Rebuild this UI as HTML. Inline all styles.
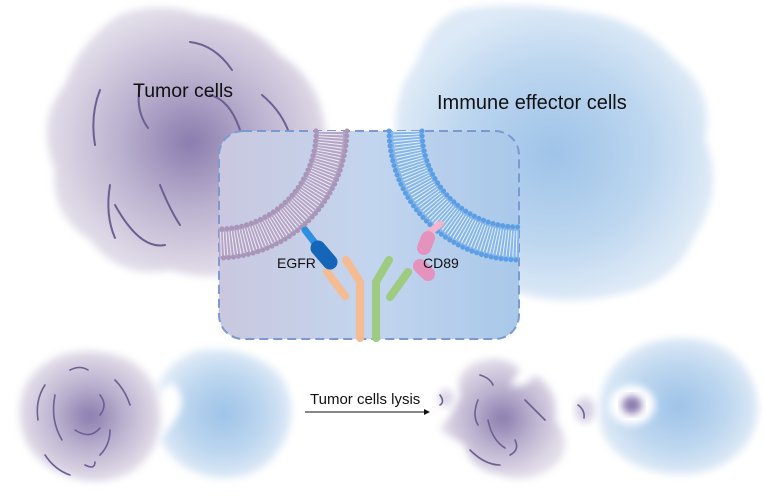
<!DOCTYPE html>
<html><head><meta charset="utf-8"><style>
html,body{margin:0;padding:0;background:#fff;width:764px;height:496px;overflow:hidden}
svg{display:block}
text{font-family:"Liberation Sans",sans-serif;fill:#111}
</style></head><body>
<svg width="764" height="496" viewBox="0 0 764 496" xmlns="http://www.w3.org/2000/svg">
<defs>
<radialGradient id="tum" cx="0.5" cy="0.5" r="0.5"><stop offset="0" stop-color="#8a7cae"/><stop offset="0.5" stop-color="#bbb2cf"/><stop offset="1" stop-color="#e2dde9"/></radialGradient>
<radialGradient id="imm" cx="0.5" cy="0.5" r="0.5"><stop offset="0" stop-color="#9ec3e8"/><stop offset="0.6" stop-color="#bcd6ef"/><stop offset="1" stop-color="#dde9f6"/></radialGradient>
<linearGradient id="box" x1="0" x2="1" y1="0" y2="0"><stop offset="0" stop-color="#c9c8df"/><stop offset="0.5" stop-color="#c3d5ee"/><stop offset="1" stop-color="#a9c8ea"/></linearGradient>
<filter id="bl" x="-20%" y="-20%" width="140%" height="140%"><feGaussianBlur stdDeviation="4"/></filter>
</defs>
<path filter="url(#bl)" fill="url(#tum)" d="M120,15 Q160,0 200,15 Q250,20 280,55 Q320,80 325,130 Q345,170 320,210 Q310,250 260,265 Q220,285 170,270 Q120,280 90,240 Q50,215 55,170 Q35,120 65,85 Q80,40 120,15Z"/>
<path filter="url(#bl)" fill="url(#imm)" d="M460,10 Q520,0 580,12 Q640,18 675,60 Q715,90 705,140 Q725,190 695,235 Q675,285 615,295 Q560,308 510,290 Q450,290 415,245 Q385,200 398,150 Q388,100 418,60 Q430,22 460,10Z"/>
<g fill="none" stroke="#6c5f92" stroke-width="2" stroke-linecap="round">
<path d="M190,42 Q215,45 232,70"/><path d="M262,95 Q280,110 288,130"/><path d="M100,90 Q90,115 95,145"/><path d="M140,85 Q135,110 148,128"/><path d="M110,185 Q105,215 115,238"/><path d="M160,185 Q170,210 180,225"/><path d="M115,205 Q140,250 165,245"/><path d="M210,95 Q230,100 240,130"/>
</g>
<text x="133" y="97" font-size="19.5">Tumor cells</text>
<text x="437" y="109" font-size="20">Immune effector cells</text>
<rect x="219" y="131" width="300" height="208" rx="24" fill="url(#box)" stroke="#7c9ad0" stroke-width="2" stroke-dasharray="9 5"/>
<g fill="none">
<path d="M331,131 A113,113 0 0 1 219,244" stroke="#b3a5c6" stroke-width="30"/>
<path d="M331,131 A113,113 0 0 1 219,244" stroke="#eeeaf4" stroke-width="24" stroke-dasharray="1 2"/>
<path d="M347,131 A129,129 0 0 1 219,258" stroke="#a895b8" stroke-width="5" stroke-dasharray="0 5" stroke-linecap="round"/>
<path d="M316,131 A98,98 0 0 1 219,229" stroke="#a895b8" stroke-width="5" stroke-dasharray="0 5" stroke-linecap="round"/>
<path d="M406,131 A114,114 0 0 0 519,244" stroke="#86b6ea" stroke-width="32"/>
<path d="M406,131 A114,114 0 0 0 519,244" stroke="#e6f0fb" stroke-width="26" stroke-dasharray="1 2"/>
<path d="M389,131 A130,130 0 0 0 519,260" stroke="#5c9ee4" stroke-width="5" stroke-dasharray="0 5" stroke-linecap="round"/>
<path d="M422,131 A97,97 0 0 0 519,227" stroke="#5c9ee4" stroke-width="5" stroke-dasharray="0 5" stroke-linecap="round"/>
</g>
<g fill="none" stroke-linecap="round">
<path d="M346,260 L360,282 L360,338" stroke="#f5bc93" stroke-width="8"/>
<path d="M327,272 L345,296" stroke="#f5bc93" stroke-width="8"/>
<path d="M389,260 L376,282 L376,338" stroke="#9ecb80" stroke-width="8"/>
<path d="M408,272 L390,297" stroke="#9ecb80" stroke-width="8"/>
<path d="M305,230 L318,247" stroke="#2d8fe0" stroke-width="7"/>
<path d="M318,248 L330,262" stroke="#1565b8" stroke-width="15"/>
<path d="M440,224 L430,232" stroke="#f2b3cc" stroke-width="7"/>
<path d="M428,238 L424,248" stroke="#e592bd" stroke-width="14"/>
<path d="M420,266 L428,274" stroke="#e592bd" stroke-width="14"/>
</g>
<text x="277" y="268" font-size="14">EGFR</text>
<text x="423" y="268" font-size="14">CD89</text>
<path filter="url(#bl)" fill="url(#tum)" d="M60,355 Q95,345 130,360 Q160,380 160,410 Q165,445 135,470 Q100,490 65,475 Q25,460 20,420 Q15,375 60,355Z"/>
<path filter="url(#bl)" fill="url(#imm)" d="M200,350 Q250,345 280,375 Q300,405 285,440 Q265,480 220,478 Q180,475 160,440 L175,420 Q190,400 172,382 L155,395 Q165,360 200,350Z"/>
<g fill="none" stroke="#6c5f92" stroke-width="1.6" stroke-linecap="round">
<path d="M70,370 Q80,365 88,370"/><path d="M45,385 Q35,400 38,420"/><path d="M55,395 Q50,420 62,440"/><path d="M115,380 Q125,390 130,405"/><path d="M75,430 Q90,440 100,428"/><path d="M110,430 Q110,445 100,455"/><path d="M45,455 Q55,470 70,475"/><path d="M85,465 Q95,470 95,462"/><path d="M100,395 Q108,405 100,415"/>
</g>
<line x1="305" y1="412" x2="425" y2="412" stroke="#111" stroke-width="1"/>
<path d="M430,412 L424,409 L424,415Z" fill="#111"/>
<text x="310" y="404" font-size="15">Tumor cells lysis</text>
<path filter="url(#bl)" fill="url(#tum)" d="M470,365 Q500,350 520,370 L510,385 Q525,390 535,375 Q560,390 555,420 Q575,445 555,465 Q530,485 500,475 Q470,470 465,445 L440,430 Q455,410 460,395 Q455,375 470,365Z"/>
<ellipse cx="446" cy="398" rx="8" ry="9" fill="#dcd7e7" filter="url(#bl)"/>
<ellipse cx="585" cy="410" rx="10" ry="13" fill="#d8d3e5" filter="url(#bl)"/>
<path filter="url(#bl)" fill="url(#imm)" d="M660,340 Q722,330 748,372 Q768,410 748,442 Q722,478 670,474 Q618,468 602,432 Q592,390 618,362 Q634,346 660,340Z"/>
<ellipse cx="632" cy="405" rx="23" ry="20" fill="#fff" filter="url(#bl)"/>
<ellipse cx="632" cy="405" rx="10" ry="9" fill="#8a7cae" filter="url(#bl)"/>
<g fill="none" stroke="#6c5f92" stroke-width="1.6" stroke-linecap="round">
<path d="M480,375 Q490,378 493,385"/><path d="M478,400 Q472,415 478,425"/><path d="M488,420 Q492,440 505,448"/><path d="M525,400 Q535,410 545,420"/><path d="M470,450 Q485,465 500,465"/><path d="M510,455 Q520,450 515,440"/><path d="M440,395 Q445,402 440,405"/><path d="M578,405 Q585,410 584,418"/>
</g>
</svg>
</body></html>
